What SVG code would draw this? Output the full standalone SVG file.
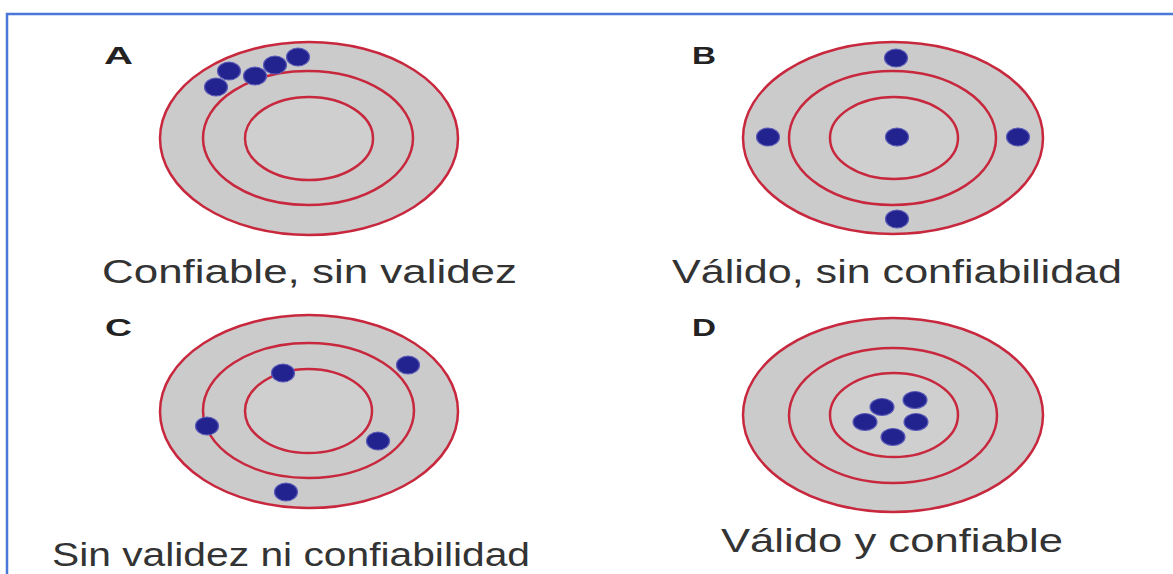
<svg xmlns="http://www.w3.org/2000/svg" width="1173" height="574" viewBox="0 0 1173 574">
<style>
.bg{fill:#ffffff}
.frame{fill:none;stroke:#4a78d8;stroke-width:2.5}
.ring{fill:#cbcbcb;stroke:#c8283e;stroke-width:2.5}
.inner{fill:#cfcfcf;stroke:#c8283e;stroke-width:2.5}
.dot{fill:#23238f;stroke:#5a5ab8;stroke-width:1.2}
.lbl{font-family:"Liberation Sans",Arial,sans-serif;font-weight:bold;font-size:24px;fill:#222222}
.cap{font-family:"Liberation Sans",Arial,sans-serif;font-size:33px;fill:#333333}
</style>
<rect class="bg" x="0" y="0" width="1173" height="574"/>
<rect class="frame" x="7" y="14" width="1180" height="580"/>

<g id="target-A">
  <ellipse class="ring" cx="309" cy="138.5" rx="149" ry="96.5"/>
  <ellipse class="ring" cx="308" cy="138" rx="105" ry="67"/>
  <ellipse class="inner" cx="309" cy="138.5" rx="64" ry="41.5"/>
  <ellipse class="dot" cx="216" cy="87" rx="11.5" ry="9"/>
  <ellipse class="dot" cx="229" cy="71" rx="11.5" ry="9"/>
  <ellipse class="dot" cx="255" cy="76" rx="11.5" ry="9"/>
  <ellipse class="dot" cx="275" cy="65" rx="11.5" ry="9"/>
  <ellipse class="dot" cx="298" cy="57" rx="11.5" ry="9"/>
  <text class="lbl" x="104" y="64" textLength="29" lengthAdjust="spacingAndGlyphs">A</text>
  <text class="cap" x="102" y="283" textLength="415" lengthAdjust="spacingAndGlyphs">Confiable, sin validez</text>
</g>

<g id="target-B">
  <ellipse class="ring" cx="893" cy="138" rx="150" ry="96"/>
  <ellipse class="ring" cx="892.5" cy="138" rx="103.5" ry="67"/>
  <ellipse class="inner" cx="894" cy="138" rx="64" ry="41"/>
  <ellipse class="dot" cx="896" cy="58" rx="11.5" ry="9"/>
  <ellipse class="dot" cx="768" cy="137" rx="11.5" ry="9"/>
  <ellipse class="dot" cx="897" cy="137" rx="11.5" ry="9"/>
  <ellipse class="dot" cx="1018" cy="137" rx="11.5" ry="9"/>
  <ellipse class="dot" cx="897" cy="219" rx="11.5" ry="9"/>
  <text class="lbl" x="692" y="64" textLength="24" lengthAdjust="spacingAndGlyphs">B</text>
  <text class="cap" x="672" y="283" textLength="450" lengthAdjust="spacingAndGlyphs">Válido, sin confiabilidad</text>
</g>

<g id="target-C">
  <ellipse class="ring" cx="309" cy="411.5" rx="149" ry="96.5"/>
  <ellipse class="ring" cx="308.5" cy="410.5" rx="105.5" ry="67.5"/>
  <ellipse class="inner" cx="308.5" cy="411" rx="63.5" ry="42"/>
  <ellipse class="dot" cx="283" cy="373" rx="11.5" ry="9"/>
  <ellipse class="dot" cx="408" cy="365" rx="11.5" ry="9"/>
  <ellipse class="dot" cx="207" cy="426" rx="11.5" ry="9"/>
  <ellipse class="dot" cx="378" cy="441" rx="11.5" ry="9"/>
  <ellipse class="dot" cx="286" cy="492" rx="11.5" ry="9"/>
  <text class="lbl" x="105" y="336" textLength="27" lengthAdjust="spacingAndGlyphs">C</text>
  <text class="cap" x="52" y="566" textLength="478" lengthAdjust="spacingAndGlyphs">Sin validez ni confiabilidad</text>
</g>

<g id="target-D">
  <ellipse class="ring" cx="893" cy="415" rx="150" ry="97"/>
  <ellipse class="ring" cx="893" cy="415.5" rx="104" ry="67.5"/>
  <ellipse class="inner" cx="894" cy="415" rx="64" ry="42"/>
  <ellipse class="dot" cx="882" cy="407" rx="12" ry="8.5"/>
  <ellipse class="dot" cx="915" cy="400" rx="12" ry="8.5"/>
  <ellipse class="dot" cx="865" cy="422" rx="12" ry="8.5"/>
  <ellipse class="dot" cx="916" cy="422" rx="12" ry="8.5"/>
  <ellipse class="dot" cx="893" cy="437" rx="12" ry="8.5"/>
  <text class="lbl" x="692" y="336" textLength="24" lengthAdjust="spacingAndGlyphs">D</text>
  <text class="cap" x="721" y="552" textLength="342" lengthAdjust="spacingAndGlyphs">Válido y confiable</text>
</g>

<g id="connectors"></g>
</svg>
